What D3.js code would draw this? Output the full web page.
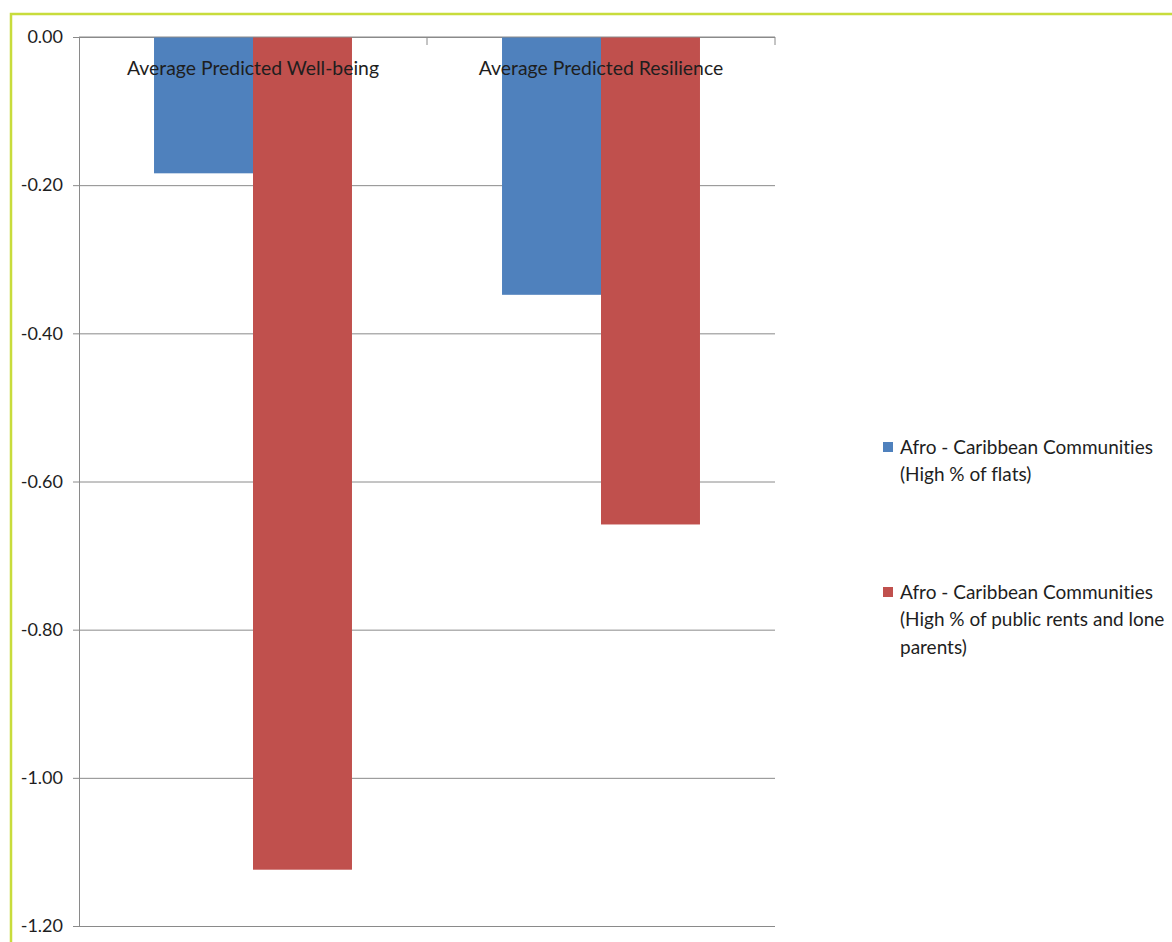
<!DOCTYPE html>
<html>
<head>
<meta charset="utf-8">
<script src="https://cdn.jsdelivr.net/npm/d3@7"></script>
<style>
body{margin:0;background:#fff;}
svg text{font-variant-ligatures:none;}
.axis text{font-family:Lato,"Open Sans",sans-serif;font-size:18px;fill:#1e1e1e;}
</style>
</head>
<body>
<svg class="barChart"></svg>
<script>
var categories=['Average Predicted Well-being','Average Predicted Resilience'];
var seriesNames=['Afro - Caribbean Communities (High % of flats)','Afro - Caribbean Communities (High % of public rents and lone parents)'];
var legendLines=[['Afro - Caribbean Communities','(High % of flats)'],['Afro - Caribbean Communities','(High % of public rents and lone','parents)']];
var flatsValues=[-0.184,-0.348];
var rentsValues=[-1.124,-0.658];
var yTicks=[0,-0.2,-0.4,-0.6,-0.8,-1.0,-1.2];
var colors=['#4f81bd','#c0504d'];

var width=1172;
var height=942;
var padding={top:37,right:397,bottom:16,left:79};
var fontFamily='Lato,"Open Sans",sans-serif';

var svg=d3.select('.barChart')
    .attr('width',width)
    .attr('height',height);

// 外框
svg.append('rect')
    .attr('x',11)
    .attr('y',14)
    .attr('width',width+40)
    .attr('height',height+40)
    .attr('fill','none')
    .attr('stroke','#c8dc3c')
    .attr('stroke-width',2.5);

var plotW=width-padding.left-padding.right;
var plotH=height-padding.top-padding.bottom;

var x0=d3.scaleBand()
    .domain(categories)
    .range([padding.left,padding.left+plotW]);

var x1=d3.scaleBand()
    .domain([0,1])
    .range([0,x0.bandwidth()])
    .paddingOuter(0.758);

var yScale=d3.scaleLinear()
    .domain([-1.2,0])
    .range([padding.top+plotH,padding.top]);

// 网格线
var grid=d3.axisLeft(yScale)
    .tickValues(yTicks)
    .tickSize(-plotW)
    .tickFormat('');
svg.append('g')
    .attr('transform','translate('+padding.left+',0)')
    .call(grid)
    .call(function(g){g.select('.domain').remove();})
    .selectAll('line')
    .attr('stroke','#8a8a8a');

var rows=categories.map(function(c,i){
    return {cat:c,values:[flatsValues[i],rentsValues[i]]};
});

svg.append('g')
    .selectAll('g')
    .data(rows)
    .enter()
    .append('g')
    .attr('transform',function(d){return 'translate('+x0(d.cat)+',0)';})
    .selectAll('rect')
    .data(function(d){return d.values.map(function(v,j){return {j:j,v:v};});})
    .enter()
    .append('rect')
    .attr('x',function(d){return x1(d.j);})
    .attr('width',x1.bandwidth())
    .attr('y',yScale(0))
    .attr('height',function(d){return yScale(d.v)-yScale(0);})
    .attr('fill',function(d){return colors[d.j];});

// Y轴
var yAxis=d3.axisLeft(yScale)
    .tickValues(yTicks)
    .tickSize(6)
    .tickPadding(10)
    .tickFormat(function(d){return d.toFixed(2);});
var yg=svg.append('g')
    .attr('class','axis')
    .attr('transform','translate('+padding.left+',0)')
    .call(yAxis);
yg.select('.domain').attr('stroke','#8a8a8a');
yg.selectAll('line').attr('stroke','#8a8a8a');

// 零线上的分类刻度
var xAxis=d3.axisBottom(x0)
    .tickSize(8)
    .tickFormat('');
var xg=svg.append('g')
    .attr('transform','translate(0,'+yScale(0)+')')
    .call(xAxis);
xg.select('.domain').attr('stroke','#8a8a8a').attr('d','M'+padding.left+',0H'+(padding.left+plotW));
xg.selectAll('.tick').attr('transform',function(d){return 'translate('+(x0(d)+x0.bandwidth())+',0)';});
xg.selectAll('line').attr('stroke','#8a8a8a');

// 分类标签
svg.append('g')
    .selectAll('text')
    .data(categories)
    .enter()
    .append('text')
    .attr('x',function(d){return x0(d)+x0.bandwidth()/2;})
    .attr('y',yScale(0)+31)
    .attr('dy','0.35em')
    .attr('text-anchor','middle')
    .attr('font-family',fontFamily)
    .attr('font-size',19.4)
    .attr('fill','#1e1e1e')
    .text(function(d){return d;});

// 图例
var legendY=[447,592];
var legend=svg.append('g')
    .selectAll('g')
    .data(legendLines)
    .enter()
    .append('g')
    .attr('transform',function(d,i){return 'translate(883,'+legendY[i]+')';});

legend.append('rect')
    .attr('x',0)
    .attr('y',-5)
    .attr('width',10)
    .attr('height',10)
    .attr('fill',function(d,i){return colors[i];});

legend.append('text')
    .attr('font-family',fontFamily)
    .attr('font-size',19)
    .attr('fill','#1e1e1e')
    .selectAll('tspan')
    .data(function(d){return d;})
    .enter()
    .append('tspan')
    .attr('x',17)
    .attr('y',function(d,k){return k*27.5;})
    .attr('dy','0.35em')
    .text(function(d){return d;});
</script>
</body>
</html>
